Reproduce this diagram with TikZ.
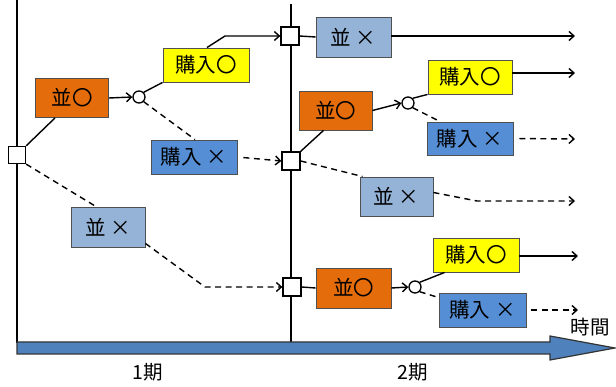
\documentclass[tikz,border=0pt]{standalone}
\usepackage{fontspec}
\setmainfont{Noto Sans CJK JP}
\usetikzlibrary{arrows.meta,calc}
\definecolor{orng}{RGB}{228,108,10}
\definecolor{ylw}{RGB}{255,255,0}
\definecolor{dblue}{RGB}{85,142,213}
\definecolor{lblue}{RGB}{149,179,215}
\definecolor{axisblue}{RGB}{79,129,189}
\definecolor{bord}{RGB}{80,80,80}
\tikzset{
  box/.style={draw=bord,line width=0.9pt,inner sep=0pt,font=\fontsize{20.5}{20.5}\selectfont,anchor=center},
  nami/.style={box,fill=orng,minimum width=73pt,minimum height=39pt},
  namix/.style={box,fill=lblue,minimum width=74pt,minimum height=40pt},
  kon/.style={box,fill=ylw,minimum width=86pt,minimum height=34pt},
  konx/.style={box,fill=dblue,minimum width=86pt,minimum height=34pt},
  sqr/.style={draw,fill=white,line width=1.3pt,minimum size=17pt,inner sep=0pt},
  circ/.style={draw,fill=white,circle,line width=1.3pt,minimum size=12pt,inner sep=0pt},
  ln/.style={line width=1.4pt},
  dln/.style={line width=1.4pt,dash pattern=on 6pt off 4.5pt},
  arr/.style={-{Straight Barb[length=5pt,width=9pt]}},
  lab/.style={font=\fontsize{19.5}{19.5}\selectfont}
}
\begin{document}
\begin{tikzpicture}[x=1pt,y=-1pt]
\useasboundingbox (0,0) rectangle (616,387);
% vertical time lines
\coordinate (v1t) at (17,0);
\coordinate (v1b) at (17,343);
\coordinate (v2t) at (291,4);
\coordinate (v2b) at (291,343);
\draw[ln] (v1t) -- (v1b);
\draw[ln] (v2t) -- (v2b);
% time axis
\draw[fill=axisblue,draw=black!80,line width=1.2pt]
  (17,342) -- (550,342) -- (550,336) -- (615,348) -- (550,360) -- (550,354) -- (17,354) -- cycle;
\node[lab] (t1) at (148,372) {1期};
\node[lab] (t2) at (413,372) {2期};
\node[lab] (tj) at (590,327) {時間};
% period 1
\node[sqr] (sq1) at (17,155) {};
\node[nami] (A1) at (72,98) {並〇};
\node[circ] (c1) at (139,97) {};
\node[kon] (B1) at (206,65) {購入〇};
\node[konx] (C1) at (194,157) {購入 ×};
\node[namix] (D1) at (108,227) {並 ×};
% squares period 2
\node[sqr,minimum size=18pt] (sq2) at (290,36) {};
\node[sqr,minimum size=18pt] (sq3) at (291,161) {};
\node[sqr,minimum size=18pt] (sq4) at (292,287) {};
% period 2 nodes
\node[namix,minimum width=75pt] (E) at (353.5,37) {並 ×};
\node[nami] (A2) at (335.5,110.5) {並〇};
\node[circ] (c2) at (408,103) {};
\node[kon,minimum width=84pt] (B2) at (470,77) {購入〇};
\node[konx,minimum height=33pt] (C2) at (470,138.5) {購入 ×};
\node[namix,minimum width=73pt,minimum height=39pt] (D2) at (396.5,196.5) {並 ×};
\node[nami,minimum width=75pt,minimum height=40pt] (A3) at (353.5,288) {並〇};
\node[circ] (c3) at (415,287) {};
\node[kon] (B3) at (476,255) {購入〇};
\node[konx,minimum width=87pt] (C3) at (482.5,310) {購入 ×};
% free ends
\coordinate (k1) at (225,36);
\coordinate (k2) at (205,287);
\coordinate (k3) at (477,201);
\coordinate (e1) at (575,36);
\coordinate (e2) at (575,73);
\coordinate (e3) at (575,139);
\coordinate (e4) at (575,201);
\coordinate (e5) at (578,256);
\coordinate (e6) at (578,310);
% period 1 connectors
\draw[ln] (sq1.north east) -- ([xshift=-17pt]A1.south);
\draw[ln,arr] (A1.east) -- (c1.west);
\draw[ln] (c1.north east) -- (B1.south west);
\draw[dln] (c1.south east) -- ([xshift=1pt]C1.north);
\draw[ln,arr] ([xshift=1pt]B1.north) -- (k1) -- (sq2.west);
\draw[dln,arr,shorten <=6pt] (C1.east) -- (sq3.west);
\draw[dln] (sq1.south east) -- ([xshift=-12pt]D1.north);
\draw[dln,arr] ($(D1.south east)+(0,-4)$) -- (k2) -- (sq4.west);
% period 2 connectors
\draw[ln] (sq2.east) -- (E.west);
\draw[ln,arr] (E.east |- e1) -- (e1);
\draw[ln] (sq3.north east) -- ([xshift=-12pt]A2.south);
\draw[ln,arr] (A2.east) -- (c2.west);
\draw[ln] (c2.north east) -- (B2.south west);
\draw[dln] (c2.south east) -- ([xshift=-30pt]C2.north);
\draw[ln,arr] (B2.east |- e2) -- (e2);
\draw[dln,arr,shorten <=6pt] (C2.east) -- (e3);
\draw[dln] (sq3.east) -- ([xshift=3pt]D2.north west);
\draw[dln,arr] ($(D2.east)+(0,-4)$) -- (k3) -- (e4);
\draw[ln] (sq4.east) -- (A3.west);
\draw[ln,arr] (A3.east) -- (c3.west);
\draw[ln] (c3.north east) -- ([xshift=12pt]B3.south west);
\draw[dln] (c3.south east) -- ([yshift=-5pt]C3.north west);
\draw[ln,arr] (B3.east |- e5) -- (e5);
\draw[dln,arr,shorten <=5pt] (C3.east) -- (e6);
\end{tikzpicture}
\end{document}
